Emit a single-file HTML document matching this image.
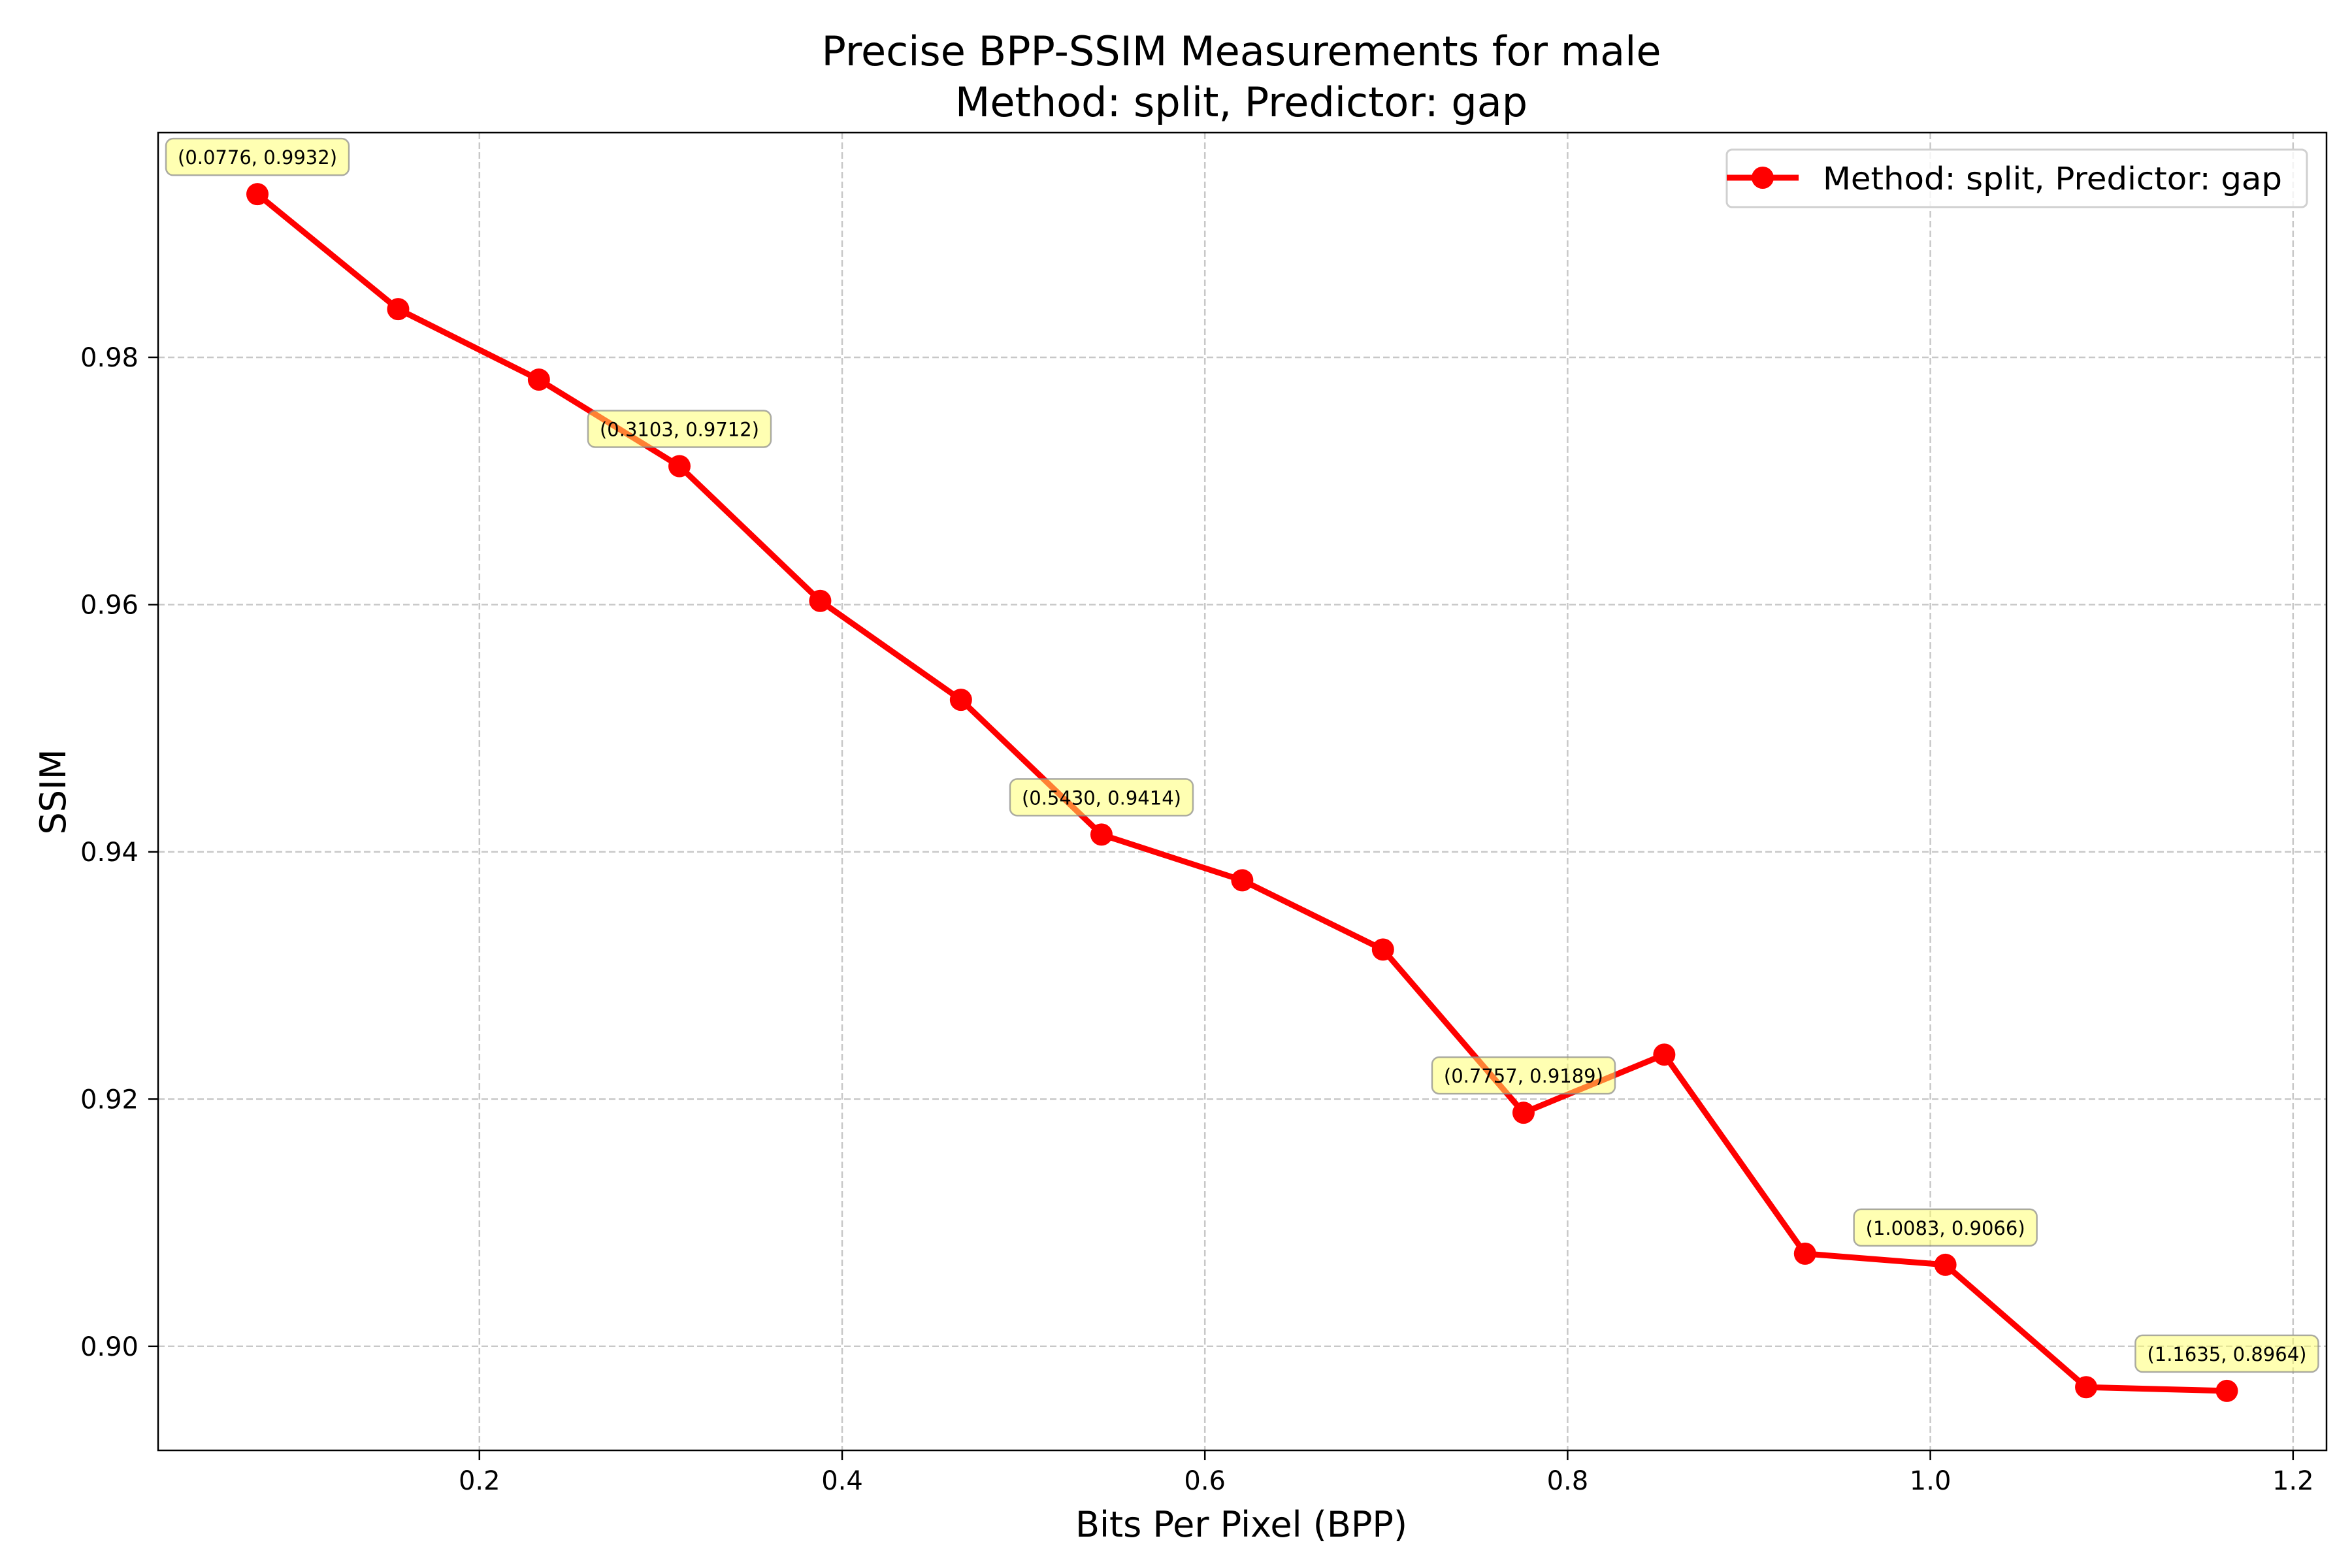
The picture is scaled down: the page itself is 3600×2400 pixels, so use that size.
<!DOCTYPE html>
<html><head><meta charset="utf-8"><style>
html,body{margin:0;padding:0;background:#fff}
svg{display:block;font-family:"DejaVu Sans","Liberation Sans",sans-serif}
</style></head><body>
<svg id="chart" width="3600" height="2400" viewBox="0 0 3600 2400">
<rect x="0" y="0" width="3600" height="2400" fill="#fff"/>
<g id="grid"></g>
<g id="xticks"></g>
<g id="yticks"></g>
<g id="series"></g>
<g id="annots"></g>
<rect x="242" y="203" width="3319" height="2017" fill="none" stroke="#000" stroke-width="2.5"/>
<text x="1900" y="100" font-size="62" text-anchor="middle">Precise BPP-SSIM Measurements for male</text>
<text x="1900" y="178" font-size="62" text-anchor="middle">Method: split, Predictor: gap</text>
<text x="1900" y="2352" font-size="54" text-anchor="middle">Bits Per Pixel (BPP)</text>
<text x="100" y="1212" font-size="54" text-anchor="middle" transform="rotate(-90 100 1212)">SSIM</text>
<g>
<rect x="2643" y="229" width="888" height="88" rx="8" fill="#fff" fill-opacity="0.8" stroke="#d0d0d0" stroke-width="3"/>
<line x1="2643" y1="272" x2="2753" y2="272" stroke="#f00" stroke-width="9"/>
<circle cx="2698" cy="272" r="17" fill="#f00"/>
<text x="2790" y="290" font-size="48" textLength="703" lengthAdjust="spacingAndGlyphs">Method: split, Predictor: gap</text>
</g>
</svg>
<script>
const bpp=[0.0776,0.1552,0.2328,0.3103,0.3879,0.4655,0.5430,0.6206,0.6982,0.7757,0.8533,0.9309,1.0083,1.0859,1.1635];
const ssim=[0.9932,0.9839,0.9782,0.9712,0.9603,0.9523,0.9414,0.9377,0.9321,0.9189,0.9236,0.9075,0.9066,0.8967,0.8964];
const xTicks=[0.2,0.4,0.6,0.8,1.0,1.2];
const xTickLabels=["0.2","0.4","0.6","0.8","1.0","1.2"];
const yTicks=[0.90,0.92,0.94,0.96,0.98];
const yTickLabels=["0.90","0.92","0.94","0.96","0.98"];
const annotIdx=[0,3,6,9,12,14];
const NS="http://www.w3.org/2000/svg";
const L=242,R=3561,T=203,B=2220;
function xs(v){return 178.6+v*2776;}
function ys(v){return 2060.8-(v-0.90)*18923;}
function mk(tag,attrs,parent){const e=document.createElementNS(NS,tag);for(const k in attrs)e.setAttribute(k,attrs[k]);parent.appendChild(e);return e;}
const grid=document.getElementById('grid'),gx=document.getElementById('xticks'),gy=document.getElementById('yticks');
xTicks.forEach((t,i)=>{const x=xs(t);
 const g=mk('line',{x1:x,x2:x,y1:T,y2:B,stroke:'#b0b0b0','stroke-width':2.5,'stroke-dasharray':'10 5','stroke-opacity':0.7},grid);
 
 
 const tk=mk('line',{x1:x,x2:x,y1:B,y2:B+15,stroke:'#000','stroke-width':2.5},gx);
 
 
 const tx=mk('text',{x:x,y:B+60,'font-size':40,'text-anchor':'middle'},gx);tx.textContent=xTickLabels[i];
 
 
});
yTicks.forEach((t,i)=>{const y=ys(t);
 const g=mk('line',{x1:L,x2:R,y1:y,y2:y,stroke:'#b0b0b0','stroke-width':2.5,'stroke-dasharray':'10 5','stroke-opacity':0.7},grid);
 
 
 const tk=mk('line',{x1:L-15,x2:L,y1:y,y2:y,stroke:'#000','stroke-width':2.5},gy);
 
 
 const tx=mk('text',{x:L-30,y:y+14,'font-size':40,'text-anchor':'end'},gy);tx.textContent=yTickLabels[i];
 
 
});
const s=document.getElementById('series');
const pts=bpp.map((b,i)=>xs(b)+','+ys(ssim[i])).join(' ');
const pl=mk('polyline',{points:pts,fill:'none',stroke:'#f00','stroke-width':9,'stroke-linejoin':'round'},s);


bpp.forEach((b,i)=>{const c=mk('circle',{cx:xs(b),cy:ys(ssim[i]),r:17,fill:'#f00'},s);
 
 
});
const an=document.getElementById('annots');
annotIdx.forEach(i=>{const x=xs(bpp[i]),y=ys(ssim[i])-56;
 const label='('+bpp[i].toFixed(4)+', '+ssim[i].toFixed(4)+')';
 const r=mk('rect',{y:y-29,height:56,rx:11,fill:'#ffff66','fill-opacity':0.5,stroke:'#888','stroke-opacity':0.7,'stroke-width':2.5},an);
 
 
 const t=mk('text',{x:x,y:y+10,'font-size':29,'text-anchor':'middle'},an);t.textContent=label;
 
 
 let w=t.getComputedTextLength()+36; if(!w||w<60) w=label.length*17+36;
 r.setAttribute('x',x-w/2); r.setAttribute('width',w);
});
</script>
</body></html>
